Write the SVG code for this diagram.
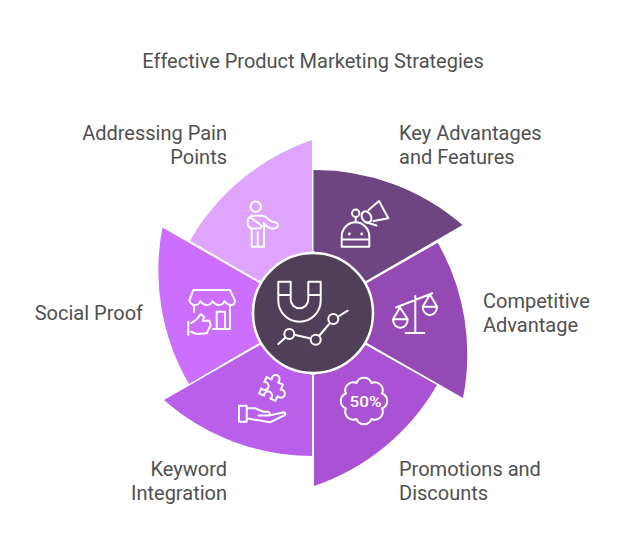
<svg xmlns="http://www.w3.org/2000/svg" width="626" height="554" viewBox="0 0 626 554">
<style>
text{font-family:Roboto,"Liberation Sans",sans-serif;font-size:20px;fill:#505050}
.r{text-anchor:end}
.i{fill:none;stroke:#fff;stroke-width:2;stroke-linejoin:round;stroke-linecap:round}
</style>
<rect width="626" height="554" fill="#fff"/>
<text x="313" y="68" text-anchor="middle">Effective Product Marketing Strategies</text>
<g id="connectors"></g>
<g id="addressing-pain-points">
<path d="M312 140A225 225 0 0 0 190 240.700L259.500 281L312 251Z" fill="#dfa4fe"/>
<g class="i"><circle cx="255.700" cy="206.700" r="5.200"/>
<path d="M251.700 229V246.700H264V224M257.700 232V246.700"/>
<path d="M252 215.700H261.700Q266 216 269 220Q272 222 276 222.500Q279 224 277.500 227Q273 230 270 228Q266 227 264 223"/>
<path d="M252 215.700Q247.500 218 247.700 222Q247.500 227 251.700 228.500H259.500L262 226L250 217"/></g>
<text class="r" x="227" y="140">Addressing Pain</text><text class="r" x="227" y="164">Points</text>
</g>
<g id="key-advantages">
<path d="M313.500 170A225 225 0 0 1 462.500 225L366 281L313.500 251Z" fill="#6d4580"/>
<g class="i"><circle cx="355.700" cy="213.300" r="3.700"/>
<path d="M355.700 217V222.300M341.700 246.700V236.500A13.800 14.200 0 0 1 369.300 236.500V246.700ZM341.700 239.500H369.300"/>
<path d="M368.500 210L379 201L388.300 218.300L373.500 221M367 222.500L376.500 225.500"/>
<ellipse cx="366.500" cy="217" rx="4.500" ry="6" transform="rotate(-30 366.500 217)"/></g>
<circle cx="349.300" cy="234" r="1.400" fill="#fff"/><circle cx="361.700" cy="234" r="1.400" fill="#fff"/>
<text x="399" y="140">Key Advantages</text><text x="399" y="164">and Features</text>
</g>
<g id="competitive-advantage">
<path d="M437.700 242.700A225 225 0 0 1 463 398L367 343L367 283Z" fill="#9549b5"/>
<g class="i"><path d="M415.300 296V333M405.700 333H424.300M396 307.500L432.300 293.300M400 307.500L393 319.300H407.700ZM393 319.300A7.350 8.500 0 0 0 407.700 319.300M430 294.500L422.700 306.700H437ZM422.700 306.700A7.150 8.500 0 0 0 437 306.700"/></g>
<text x="483" y="308">Competitive</text><text x="483" y="332">Advantage</text>
</g>
<g id="promotions-discounts">
<path d="M437 385A225 225 0 0 1 314 486L314 375L366 345Z" fill="#aa52d4"/>
<path class="i" d="M371.460 382.980A8 8 0 0 1 382.020 393.540A8 8 0 0 1 382.020 408.460A8 8 0 0 1 371.460 419.020A8 8 0 0 1 356.540 419.020A8 8 0 0 1 345.980 408.460A8 8 0 0 1 345.980 393.540A8 8 0 0 1 356.540 382.980A8 8 0 0 1 371.460 382.980Z"/>
<text x="349.500" y="406.800" style="font-size:15px;font-weight:500;fill:#fff" textLength="32" lengthAdjust="spacingAndGlyphs">50%</text>
<text x="399" y="476">Promotions and</text><text x="399" y="500">Discounts</text>
</g>
<g id="keyword-integration">
<path d="M312 456A225 225 0 0 1 164 400L260 345L312 375Z" fill="#ba5feb"/>
<g class="i"><path d="M239 405.700H246.700V421.700H239ZM246.700 408.300H255L263.300 411.700H268.300Q271 414 269 415.500H258.500M269 415.500L284.300 412.300Q286 413.500 285 415L270 422.300L246.700 418.300"/>
<path transform="translate(271 389) rotate(25)" d="M-9-9H-3.500A4 4 0 1 1 3.500-9H9V-3.500A4 4 0 1 1 9 3.500V9H3.500A4 4 0 1 0-3.500 9H-9V3.500A4 4 0 1 0-9-3.500Z"/></g>
<text class="r" x="227" y="476">Keyword</text><text class="r" x="227" y="500">Integration</text>
</g>
<g id="social-proof">
<path d="M189 384A225 225 0 0 1 162.500 227.500L259 283L259 343Z" fill="#cc6efe"/>
<g class="i"><path d="M193.300 290H230L235 300.700Q235 305 231 305T224.500 301Q223 305 219 305T212.500 301Q211 305 207 305T200.500 301Q199 305 195 305T189.300 300.700Z"/>
<path d="M194 305V312M230 305V329M216.700 329V311.700H225V329M213 329H230"/>
<path d="M188.300 321.700V335M191 323.300L196.700 319.300L200.700 314L204 316.700L202.700 320.700H209.300L210.700 325L206.700 333.300L196.700 334L191 331.700"/></g>
<text class="r" x="143" y="320">Social Proof</text>
</g>
<g id="centre">
<circle cx="313" cy="313" r="60" fill="#4f3f58" stroke="#fff" stroke-width="2.500"/>
<g class="i"><path d="M278.300 281.700H290.700V299.500A8.800 8.800 0 0 0 308.300 299.500V281.700H320.700V300.500A21.200 21.200 0 0 1 278.300 300.500ZM278.300 295H290.700M308.300 295H320.700"/>
<circle cx="289.300" cy="334" r="5"/><circle cx="315.700" cy="339.700" r="5"/><circle cx="333.300" cy="319" r="5"/>
<path d="M278.300 344L285.500 337.500M294.300 334.700L310.700 338.500M319 336L330 323M337.800 316.800L347.700 310.700"/></g>
</g>
</svg>
